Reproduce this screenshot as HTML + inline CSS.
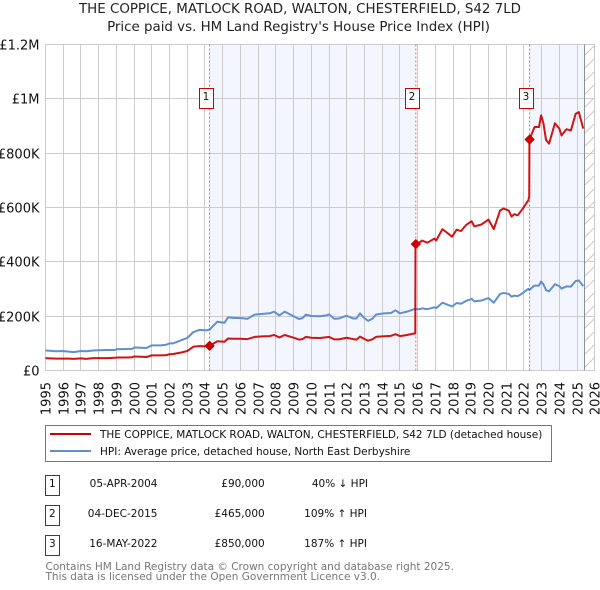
<!DOCTYPE html>
<html lang="en">
<head>
<meta charset="utf-8">
<title>The Coppice price paid vs HPI</title>
<style>
html,body{margin:0;padding:0;background:#fff;}
svg{display:block;font-family:"DejaVu Sans","Liberation Sans",sans-serif;}
</style>
</head>
<body>
<svg id="chart" width="600" height="590" viewBox="0 0 600 590" xmlns="http://www.w3.org/2000/svg">
  <defs>
    <pattern id="hatch" width="13" height="13" patternUnits="userSpaceOnUse" patternTransform="translate(584 4)">
      <path d="M0 13 L13 0" stroke="#c8c8c8" stroke-width="1" fill="none"/>
    </pattern>
  </defs>
  <rect width="600" height="590" fill="#fff"/>
  <text x="300" y="13" font-size="13.4" fill="#222" text-anchor="middle">THE COPPICE, MATLOCK ROAD, WALTON, CHESTERFIELD, S42 7LD</text>
  <text x="298.5" y="31" font-size="13.4" fill="#222" text-anchor="middle">Price paid vs. HM Land Registry's House Price Index (HPI)</text>
  <g id="shade"></g>
  <g id="grid"></g>
  <g id="ylabels"></g>
  <g id="xlabels"></g>
  <g id="series"></g>
  <g id="sales"></g>

  <g>
    <rect x="45.5" y="425.5" width="506" height="36" fill="#fff" stroke="#777" stroke-width="1"/>
    <line x1="50" x2="91" y1="434" y2="434" stroke="#cc0000" stroke-width="2"/>
    <text x="100" y="438" font-size="10.5" fill="#111">THE COPPICE, MATLOCK ROAD, WALTON, CHESTERFIELD, S42 7LD (detached house)</text>
    <line x1="50" x2="91" y1="451" y2="451" stroke="#5f8fd2" stroke-width="2"/>
    <text x="100" y="455" font-size="10.5" fill="#111">HPI: Average price, detached house, North East Derbyshire</text>
  </g>

  <g font-size="10.5" fill="#111">
    <rect x="45.5" y="475.5" width="14" height="20" fill="#fff" stroke="#cc0000"/>
    <text x="52.3" y="487" text-anchor="middle">1</text>
    <text x="157.5" y="487" text-anchor="end">05-APR-2004</text>
    <text x="264.7" y="487" text-anchor="end">£90,000</text>
    <text x="368" y="487" text-anchor="end">40% ↓ HPI</text>

    <rect x="45.5" y="505.5" width="14" height="20" fill="#fff" stroke="#cc0000"/>
    <text x="52.3" y="517" text-anchor="middle">2</text>
    <text x="157.5" y="517" text-anchor="end">04-DEC-2015</text>
    <text x="264.7" y="517" text-anchor="end">£465,000</text>
    <text x="367" y="517" text-anchor="end">109% ↑ HPI</text>

    <rect x="45.5" y="535.5" width="14" height="20" fill="#fff" stroke="#cc0000"/>
    <text x="52.3" y="547" text-anchor="middle">3</text>
    <text x="157.5" y="547" text-anchor="end">16-MAY-2022</text>
    <text x="264.7" y="547" text-anchor="end">£850,000</text>
    <text x="367" y="547" text-anchor="end">187% ↑ HPI</text>
  </g>

  <text x="45.5" y="570" font-size="10.5" fill="#777">Contains HM Land Registry data © Crown copyright and database right 2025.</text>
  <text x="45.5" y="580" font-size="10.5" fill="#777">This data is licensed under the Open Government Licence v3.0.</text>
</svg>
<script>
const yearTicks = [1995,1996,1997,1998,1999,2000,2001,2002,2003,2004,2005,2006,2007,2008,2009,2010,2011,2012,2013,2014,2015,2016,2017,2018,2019,2020,2021,2022,2023,2024,2025,2026];
const valueTicks = [0,200,400,600,800,1000,1200];
const valueTickLabels = ['£0','£200K','£400K','£600K','£800K','£1M','£1.2M'];

const dates = [1995.0,1995.25,1995.6,1996.0,1996.3,1996.6,1997.0,1997.3,1997.7,1998.0,1998.5,1998.9,1999.05,1999.5,1999.9,2000.0,2000.4,2000.7,2001.0,2001.5,2001.8,2002.0,2002.2,2002.7,2003.0,2003.35,2003.7,2004.1,2004.26,2004.7,2005.1,2005.3,2005.6,2006.0,2006.4,2006.8,2007.25,2007.65,2007.9,2008.2,2008.5,2009.0,2009.3,2009.5,2009.7,2010.0,2010.5,2010.9,2011.0,2011.3,2011.55,2012.0,2012.35,2012.55,2012.75,2012.95,2013.2,2013.45,2013.65,2014.0,2014.5,2014.75,2015.0,2015.4,2015.85,2015.87,2015.88,2016.1,2016.25,2016.55,2016.95,2017.05,2017.4,2017.95,2018.2,2018.45,2018.75,2019.05,2019.2,2019.6,2020.0,2020.3,2020.65,2020.85,2021.15,2021.3,2021.45,2021.65,2021.9,2022.25,2022.3,2022.31,2022.5,2022.6,2022.85,2022.97,2023.1,2023.25,2023.42,2023.75,2024.0,2024.12,2024.4,2024.65,2024.92,2025.1,2025.35];
const hpiValues = [73,72,70,71,69,67,71,70,73,74,75,75,78,78,79,84,83,82,92,92,94,99,99,112,119,141,149,147,150,179,175,195,193,192,190,205,208,210,216,202,216,199,189,192,205,200,199,203,206,190,191,201,191,191,210,195,182,190,205,209,211,221,210,216,226,226,226,225,228,225,232,229,249,235,248,245,256,263,254,257,266,249,281,285,281,271,275,273,283,300,296,296,307,312,312,327,317,295,291,317,310,301,309,308,329,331,310];
const paidValues = [45,44,43,43,43,42,44,42,45,45,45,46,47,47,48,51,50,49,55,55,56,59,60,66,71,87,89,88,90,107,105,117,116,116,115,123,125,126,130,121,130,120,113,115,123,120,119,122,123,114,114,120,115,113,124,117,109,114,123,125,127,133,126,130,136,137,465,470,478,470,485,478,520,492,518,513,536,549,530,537,555,520,588,596,588,566,575,571,592,626,640,850,880,896,896,939,910,848,835,910,890,865,888,883,945,951,890];

const saleIds = ['1','2','3'];
const saleDates = [2004.26,2015.9,2022.32];
const salePrices = [90,465,850];
const lastDataDate = 2025.43;

const SVGNS = 'http://www.w3.org/2000/svg';
function xScale(d){ return 45.5 + (d - 1995) * (549.3 / 31); }
function yScale(v){ return 370.3 - v * (325.8 / 1200); }
function snap(p){ return Math.round(p - 0.5) + 0.5; }
function make(tag, parent, attrs){
  const el = document.createElementNS(SVGNS, tag);
  for (const k in attrs) el.setAttribute(k, attrs[k]);
  parent.appendChild(el);
  return el;
}
const shade = document.getElementById('shade');
const grid = document.getElementById('grid');
const yl = document.getElementById('ylabels');
const xl = document.getElementById('xlabels');
const series = document.getElementById('series');
const sales = document.getElementById('sales');

const top_ = yScale(1200), bot = yScale(0);

// shaded periods between sale 1-2 and sale 3-end
const s1 = make('rect', shade, {x: xScale(saleDates[0]), y: top_, width: xScale(saleDates[1]) - xScale(saleDates[0]), height: bot - top_, fill: '#f3f6fe'});


const s2 = make('rect', shade, {x: xScale(saleDates[2]), y: top_, width: xScale(lastDataDate) - xScale(saleDates[2]), height: bot - top_, fill: '#f3f6fe'});



yearTicks.forEach(function(y){
  const px = snap(xScale(y));
  const l = make('line', grid, {x1: px, x2: px, y1: top_, y2: bot, stroke: '#cccccc', 'stroke-width': 1});
  
  
  const t = make('text', xl, {transform: 'translate(' + (px + 5) + ',382) rotate(-90)', 'font-size': 13, fill: '#111', 'text-anchor': 'end'});
  
  
  t.textContent = y;
});
valueTicks.forEach(function(v, i){
  const py = snap(yScale(v));
  const l = make('line', grid, {x1: 45, x2: 595, y1: py, y2: py, stroke: '#cccccc', 'stroke-width': 1});
  
  
  const t = make('text', yl, {x: 39.5, y: py + 5, 'font-size': 13, fill: '#111', 'text-anchor': 'end'});
  
  
  t.textContent = valueTickLabels[i];
});

// hatched "no data" region and its boundary
const hx = xScale(lastDataDate);
const h = make('rect', shade, {x: hx, y: top_, width: xScale(2026) - hx, height: bot - top_, fill: 'url(#hatch)'});


const hl = make('line', grid, {x1: snap(hx), x2: snap(hx), y1: top_, y2: bot, stroke: '#8a8f99', 'stroke-width': 1});



function linePath(vals){
  return vals.map(function(v, i){ return (i ? 'L' : 'M') + xScale(dates[i]).toFixed(2) + ' ' + yScale(v).toFixed(2); }).join(' ');
}
const hpiLine = make('path', series, {d: linePath(hpiValues), fill: 'none', stroke: '#5f8fd2', 'stroke-width': 2, 'stroke-linejoin': 'round'});


const paidLine = make('path', series, {d: linePath(paidValues), fill: 'none', stroke: '#cc0000', 'stroke-width': 2, 'stroke-linejoin': 'round', 'stroke-opacity': 0.92});



saleDates.forEach(function(d, i){
  const x = xScale(d), y = yScale(salePrices[i]);
  const v = make('line', sales, {x1: x, x2: x, y1: top_, y2: bot, stroke: '#cc0000', 'stroke-opacity': 0.55, 'stroke-width': 1, 'stroke-dasharray': '2 2'});
  
  
  const m = make('path', sales, {d: 'M' + (x - 4.5) + ' ' + y + ' L' + x + ' ' + (y - 4.5) + ' L' + (x + 4.5) + ' ' + y + ' L' + x + ' ' + (y + 4.5) + ' Z', fill: '#cc0000', stroke: '#cc0000', 'stroke-width': 1, 'stroke-linejoin': 'round'});
  
  
  const bx = Math.round(x - 3.5) - 7;
  const b = make('rect', sales, {x: bx + 0.5, y: 88.5, width: 14, height: 20, fill: '#fff', stroke: '#cc0000'});
  
  
  const t = make('text', sales, {x: bx + 7, y: 100, 'font-size': 10.5, fill: '#111', 'text-anchor': 'middle'});
  
  
  t.textContent = saleIds[i];
});
</script>
</body>
</html>
